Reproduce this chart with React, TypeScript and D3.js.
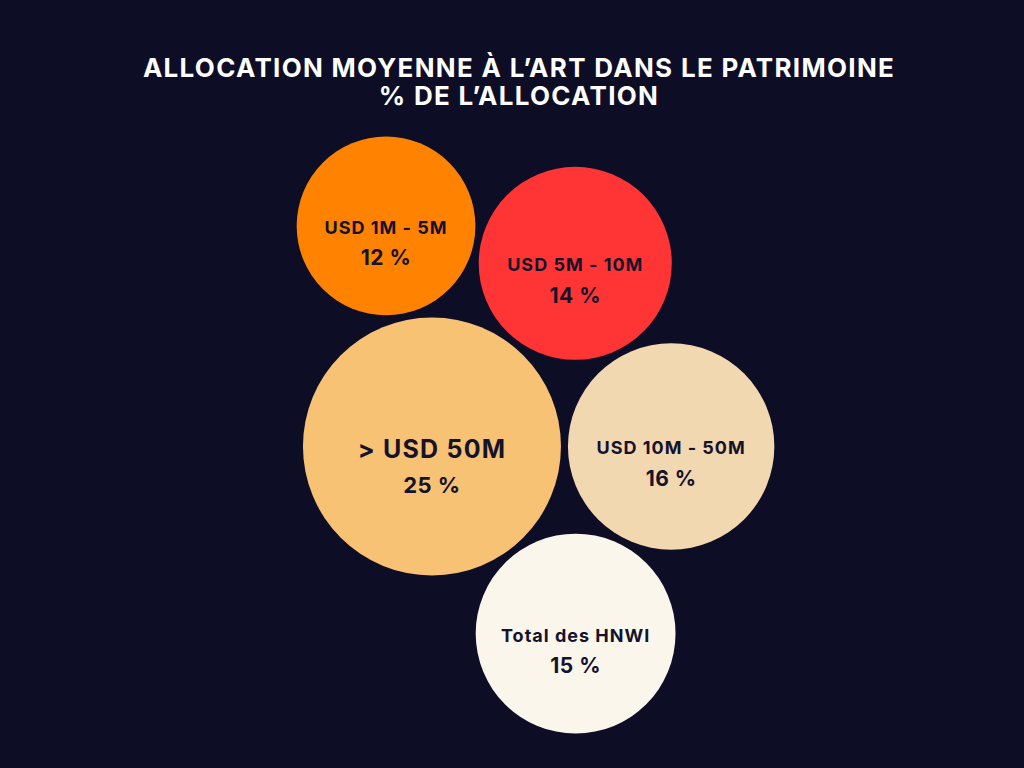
import React from "react";
import * as d3 from "d3";

// ---- Data ----
const categories = ["> USD 50M", "USD 10M - 50M", "USD 5M - 10M", "Total des HNWI", "USD 1M - 5M"];
const allocations = [25, 16, 14, 15, 12];
const colors = ["#f7c273", "#f2d8b0", "#ff3535", "#fbf6ec", "#ff8200"];
const titleLines = ["ALLOCATION MOYENNE À L’ART DANS LE PATRIMOINE", "% DE L’ALLOCATION"];

// Packing structure: each bubble touches two earlier bubbles (indices) on a given side
const anchors: ([number, number, number] | null)[] = [null, null, [0, 1, -1], [0, 1, 1], [0, 2, -1]];

const W = 1024;
const H = 768;
const BG = "#0e0d26";
const INK = "#14132b";
const PAD = 3.5;
const clusterCenter = { x: 535.5, y: 435 };

type Node = { x: number; y: number; r: number; label: string; value: number; color: string; i: number };

function tangent(a: Node, b: Node, r: number, side: number) {
  const dx = b.x - a.x, dy = b.y - a.y;
  const d = Math.hypot(dx, dy);
  const da = a.r + PAD + r + PAD;
  const db = b.r + PAD + r + PAD;
  const t = (da * da - db * db + d * d) / (2 * d);
  const h = Math.sqrt(Math.max(0, da * da - t * t));
  const ux = dx / d, uy = dy / d;
  return { x: a.x + t * ux + side * h * -uy, y: a.y + t * uy + side * h * ux };
}

function layout(): Node[] {
  const rScale = d3.scaleSqrt().domain([0, 25]).range([0, 129]);
  const nodes: Node[] = categories.map((label, i) => ({
    x: 0, y: 0, r: rScale(allocations[i]), label, value: allocations[i], color: colors[i], i,
  }));
  nodes[1].x = nodes[0].r + nodes[1].r + 2 * PAD;
  for (let i = 2; i < nodes.length; i++) {
    const an = anchors[i]!;
    const p = tangent(nodes[an[0]], nodes[an[1]], nodes[i].r, an[2]);
    nodes[i].x = p.x;
    nodes[i].y = p.y;
  }
  const x0 = d3.min(nodes, (n) => n.x - n.r)!;
  const x1 = d3.max(nodes, (n) => n.x + n.r)!;
  const y0 = d3.min(nodes, (n) => n.y - n.r)!;
  const y1 = d3.max(nodes, (n) => n.y + n.r)!;
  const ox = clusterCenter.x - (x0 + x1) / 2;
  const oy = clusterCenter.y - (y0 + y1) / 2;
  nodes.forEach((n) => { n.x += ox; n.y += oy; });
  return nodes;
}

const FONT = "Inter, 'Noto Sans', sans-serif";

export default function App() {
  const nodes = layout();
  const maxV = d3.max(allocations)!;
  return (
    <div style={{ position: "fixed", left: 0, top: 0, width: W, height: H, background: BG }}>
      <svg width={W} height={H} viewBox={`0 0 ${W} ${H}`} style={{ display: "block" }}>
        <rect x={0} y={0} width={W} height={H} fill={BG} />
        <g fontFamily={FONT} fontWeight={700} fill="#ffffff" textAnchor="middle" fontSize={26} letterSpacing={1.3}>
          <text x={519} y={77}>{titleLines[0]}</text>
          <text x={519} y={105}>{titleLines[1]}</text>
        </g>
        {nodes.map((n) => {
          const big = n.value === maxV;
          return (
            <g key={n.label} transform={`translate(${n.x},${n.y})`}>
              <circle r={n.r} fill={n.color} />
              <text
                y={big ? 11.5 : 8}
                textAnchor="middle"
                fontFamily={FONT}
                fontWeight={700}
                fontSize={big ? 25 : 18}
                letterSpacing={big ? 1.2 : 1}
                fill={INK}
              >
                {n.label}
              </text>
              <text
                y={big ? 46.5 : 39.5}
                textAnchor="middle"
                fontFamily={FONT}
                fontWeight={700}
                fontSize={big ? 22 : 21}
                letterSpacing={0.5}
                fill={INK}
              >
                {`${n.value}\u00a0%`}
              </text>
            </g>
          );
        })}
      </svg>
    </div>
  );
}
